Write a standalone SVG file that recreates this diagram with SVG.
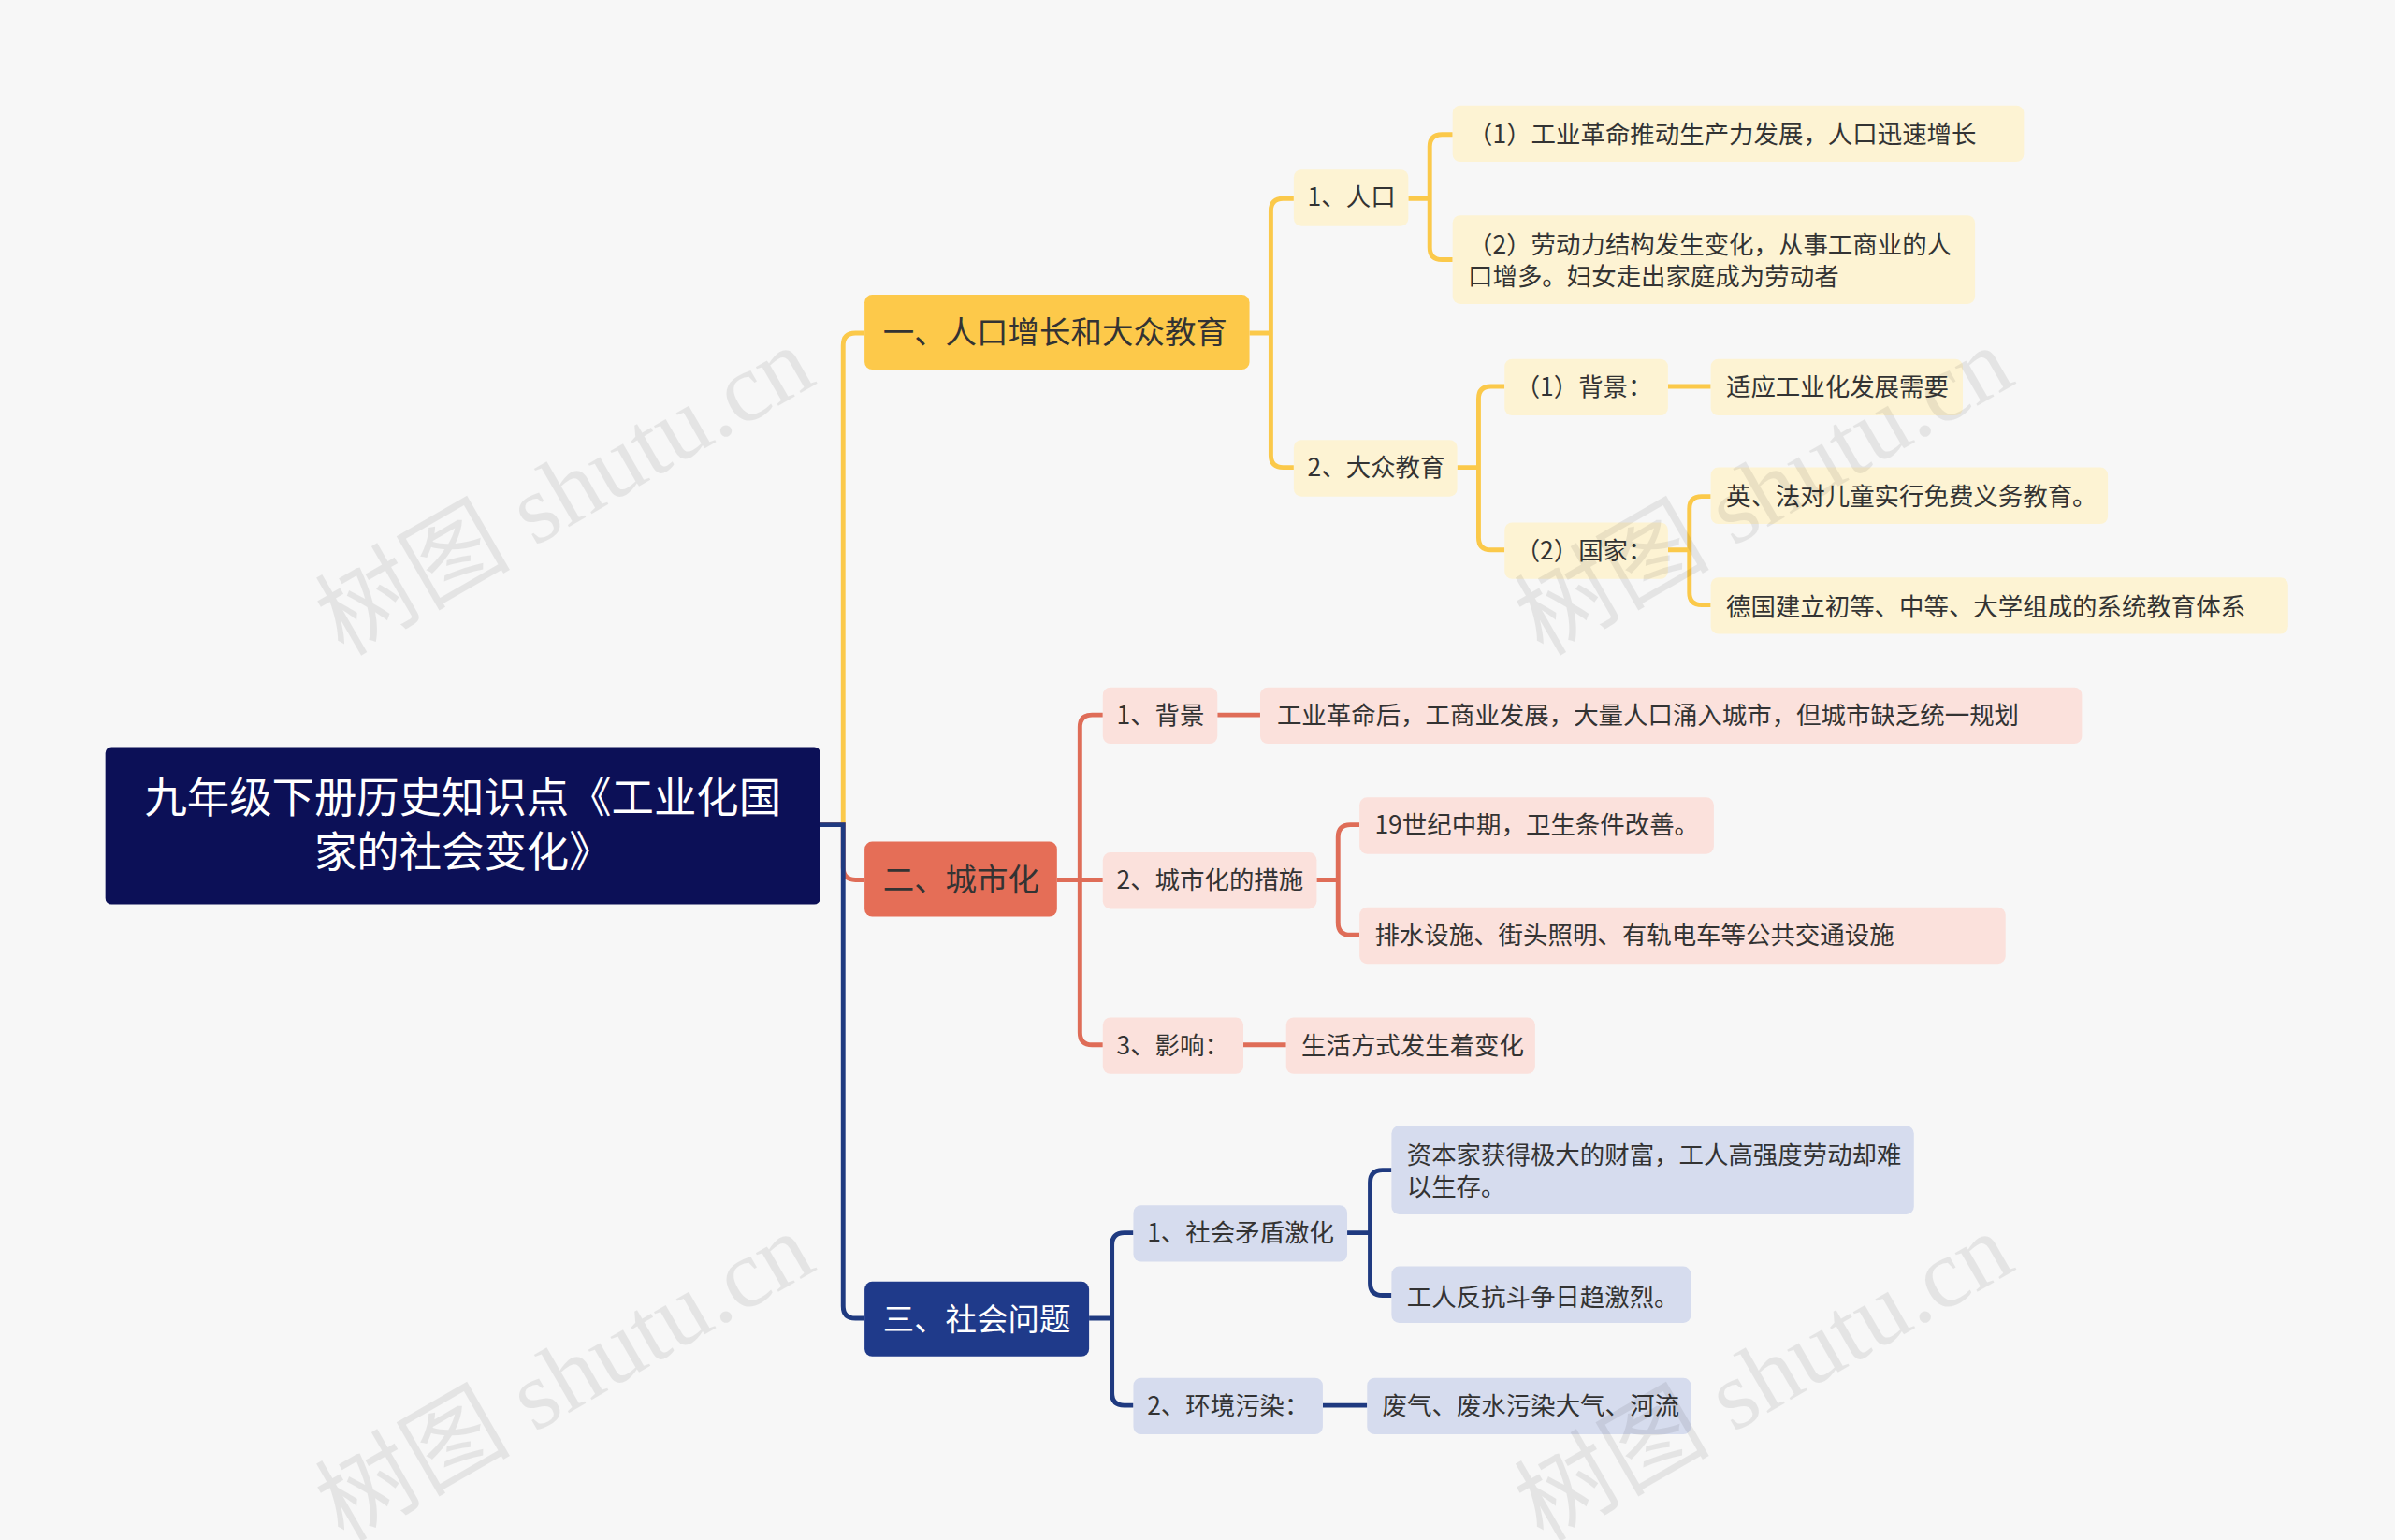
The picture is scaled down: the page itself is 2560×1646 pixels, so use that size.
<svg xmlns="http://www.w3.org/2000/svg" width="2560" height="1646" viewBox="0 0 2560 1646">
<style>
text{font-family:"Noto Sans CJK SC","Noto Sans",sans-serif;fill:#333;font-size:16.2px}
.y{fill:#fdf3d3}.r{fill:#fbe1dc}.b{fill:#d6dcee}
.cy{stroke:#fbc94a;fill:none;stroke-width:3}.cr{stroke:#df6d58;fill:none;stroke-width:3}.cb{stroke:#1f3a80;fill:none;stroke-width:3}
.wm{font-family:"Liberation Serif","Noto Sans CJK SC",serif;font-size:64px;fill:#000;opacity:0.07}
</style>
<rect width="2560" height="1646" fill="#f7f7f7"/>
<g transform="scale(1.6327)">
<g id="connectors">
<path class="cy" d="M537 540 H552 V226 Q552 218 560 218 H566"/>
<path class="cr" d="M537 540 H552 V568 Q552 576 560 576 H566"/>
<path class="cb" d="M537 540 H552 V855 Q552 863 560 863 H566"/>
<path class="cy" d="M818 218 H832 V138 Q832 130 840 130 H847 M832 218 V298 Q832 306 840 306 H847"/>
<path class="cy" d="M922 130 H936 V96 Q936 88 944 88 H951 M936 130 V162 Q936 170 944 170 H951"/>
<path class="cy" d="M954 306 H968 V261 Q968 253 976 253 H985 M968 306 V352 Q968 360 976 360 H985"/>
<path class="cy" d="M1092 253 H1120"/>
<path class="cy" d="M1092 360 H1106 V333 Q1106 325 1114 325 H1120 M1106 360 V388 Q1106 396 1114 396 H1120"/>
<path class="cr" d="M692 576 H707 V476 Q707 468 715 468 H722 M707 576 H722 M707 576 V676 Q707 684 715 684 H722"/>
<path class="cr" d="M797 468 H825 M814 684 H842"/>
<path class="cr" d="M862 576 H876 V548 Q876 540 884 540 H890 M876 576 V604 Q876 612 884 612 H890"/>
<path class="cb" d="M713 863 H728 V815 Q728 807 736 807 H742 M728 863 V912 Q728 920 736 920 H742"/>
<path class="cb" d="M882 807 H897 V774 Q897 766 905 766 H911 M897 807 V840 Q897 848 905 848 H911"/>
<path class="cb" d="M866 920 H895"/>
</g>
<g id="root"><rect x="69" y="489" width="468" height="103" rx="4" fill="#0c1057"/>
<text x="303" y="532" text-anchor="middle" style="font-size:27.8px;fill:#fff">九年级下册历史知识点《工业化国</text>
<text x="303" y="568" text-anchor="middle" style="font-size:27.8px;fill:#fff">家的社会变化》</text></g>
<g id="b1"><rect x="566" y="193" width="252" height="49" rx="5" fill="#fdc94a"/><text x="578" y="225" style="font-size:20.5px">一、人口增长和大众教育</text></g>
<g id="b2"><rect x="566" y="551" width="126" height="49" rx="5" fill="#e56e57"/><text x="578" y="583" style="font-size:20.5px">二、城市化</text></g>
<g id="b3"><rect x="566" y="839" width="147" height="49" rx="5" fill="#1f3a8a"/><text x="578" y="871" style="font-size:20.5px;fill:#fff">三、社会问题</text></g>
<g id="n11"><rect class="y" x="847" y="111" width="75" height="37" rx="5"/><text x="856" y="135">1、人口</text></g>
<g id="n12"><rect class="y" x="847" y="288" width="107" height="37" rx="5"/><text x="856" y="312">2、大众教育</text></g>
<g id="l1"><rect class="y" x="951" y="69" width="374" height="37" rx="5"/><text x="961" y="94">（1）工业革命推动生产力发展，人口迅速增长</text></g>
<g id="l2"><rect class="y" x="951" y="141" width="342" height="58" rx="5"/><text x="961" y="166">（2）劳动力结构发生变化，从事工商业的人</text><text x="961" y="187">口增多。妇女走出家庭成为劳动者</text></g>
<g id="n121"><rect class="y" x="985" y="235" width="107" height="37" rx="5"/><text x="992" y="259">（1）背景：</text></g>
<g id="l3"><rect class="y" x="1120" y="235" width="165" height="37" rx="5"/><text x="1130" y="259">适应工业化发展需要</text></g>
<g id="n122"><rect class="y" x="985" y="342" width="107" height="37" rx="5"/><text x="992" y="366">（2）国家：</text></g>
<g id="l4"><rect class="y" x="1120" y="306" width="260" height="37" rx="5"/><text x="1130" y="331">英、法对儿童实行免费义务教育。</text></g>
<g id="l5"><rect class="y" x="1120" y="378" width="378" height="37" rx="5"/><text x="1130" y="403">德国建立初等、中等、大学组成的系统教育体系</text></g>
<g id="n21"><rect class="r" x="722" y="450" width="75" height="37" rx="5"/><text x="731" y="474">1、背景</text></g>
<g id="l6"><rect class="r" x="825" y="450" width="538" height="37" rx="5"/><text x="836" y="474">工业革命后，工商业发展，大量人口涌入城市，但城市缺乏统一规划</text></g>
<g id="n22"><rect class="r" x="722" y="558" width="140" height="37" rx="5"/><text x="731" y="582">2、城市化的措施</text></g>
<g id="l7"><rect class="r" x="890" y="522" width="232" height="37" rx="5"/><text x="900" y="546">19世纪中期，卫生条件改善。</text></g>
<g id="l8"><rect class="r" x="890" y="594" width="423" height="37" rx="5"/><text x="900" y="618">排水设施、街头照明、有轨电车等公共交通设施</text></g>
<g id="n23"><rect class="r" x="722" y="666" width="92" height="37" rx="5"/><text x="731" y="690">3、影响：</text></g>
<g id="l9"><rect class="r" x="842" y="666" width="163" height="37" rx="5"/><text x="852" y="690">生活方式发生着变化</text></g>
<g id="n31"><rect class="b" x="742" y="789" width="140" height="37" rx="5"/><text x="751" y="813">1、社会矛盾激化</text></g>
<g id="l10"><rect class="b" x="911" y="737" width="342" height="58" rx="5"/><text x="921" y="762">资本家获得极大的财富，工人高强度劳动却难</text><text x="921" y="783">以生存。</text></g>
<g id="l11"><rect class="b" x="911" y="829" width="196" height="37" rx="5"/><text x="921" y="855">工人反抗斗争日趋激烈。</text></g>
<g id="n32"><rect class="b" x="742" y="902" width="124" height="37" rx="5"/><text x="751" y="926">2、环境污染：</text></g>
<g id="l12"><rect class="b" x="895" y="902" width="212" height="37" rx="5"/><text x="905" y="926">废气、废水污染大气、河流</text></g>
<g id="watermarks">
<text class="wm" transform="translate(225,430) rotate(-30)">树图 shutu.cn</text>
<text class="wm" transform="translate(1010,430) rotate(-30)">树图 shutu.cn</text>
<text class="wm" transform="translate(225,1010) rotate(-30)">树图 shutu.cn</text>
<text class="wm" transform="translate(1010,1010) rotate(-30)">树图 shutu.cn</text>
</g>
</g>
</svg>
